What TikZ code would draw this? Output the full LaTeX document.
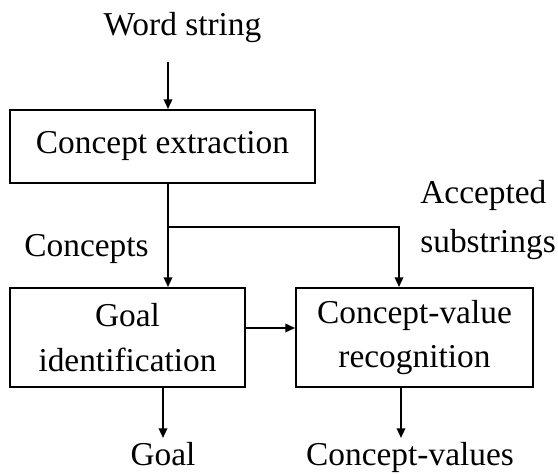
\documentclass[tikz,border=0pt]{standalone}
\usepackage{fontspec}
\setmainfont{Liberation Serif}
\usepackage{tikz}
\usetikzlibrary{arrows.meta, positioning}

\begin{document}
\begin{tikzpicture}[x=0.02cm, y=-0.02cm,
    box/.style={draw, line width=1.1pt, inner sep=0pt, align=center},
    lbl/.style={inner sep=0pt, align=center},
    arr/.style={line width=1.1pt, -{Triangle[length=5.5pt, width=4.8pt]}},
    font=\fontsize{19}{25.5}\selectfont]

    \useasboundingbox (0,0) rectangle (558,475);

    % ============================================================
    % INPUT
    % ============================================================
    \node[lbl] (words) at (182.5,28) {Word string};
    \coordinate (wstop) at (168,62);

    % ============================================================
    % PROCESSING BOXES
    % ============================================================
    \node[box, minimum width=6.1cm, minimum height=1.46cm] (extract)
        at (162.5,146.5) {Concept extraction};
    \node[box, minimum width=4.7cm, minimum height=1.98cm] (goalid)
        at (127.5,337.5) {Goal\\identification};
    \node[box, minimum width=4.74cm, minimum height=1.98cm] (cvrec)
        at (414.5,337.5) {Concept-value\\recognition};

    % ============================================================
    % LABELS
    % ============================================================
    \node[lbl] (concepts) at (86.5,249) {Concepts};
    \node[lbl, align=left, anchor=west, font=\fontsize{19}{28}\selectfont]
        (accepted) at (420,220) {Accepted\\substrings};
    \node[lbl, anchor=base] (goal) at (163,466) {Goal};
    \node[lbl, anchor=base] (cvalues) at (410,466) {Concept-values};

    % ============================================================
    % CONNECTORS
    % ============================================================
    \coordinate (split) at (168,227);
    \coordinate (branch) at (399,227);
    \coordinate (goaltip) at (163,438);
    \coordinate (cvtip) at (401,438);

    \draw[arr] (wstop) -- (wstop |- extract.north);
    \draw[line width=1.1pt] (split |- extract.south) -- (split);
    \draw[arr] (split) -- (split |- goalid.north);
    \draw[arr] (split) -- (branch) -- (branch |- cvrec.north);
    \draw[arr] ([yshift=0.19cm]goalid.east) -- ([yshift=0.19cm]cvrec.west);
    \draw[arr] (goaltip |- goalid.south) -- (goaltip);
    \draw[arr] (cvtip |- cvrec.south) -- (cvtip);

\end{tikzpicture}
\end{document}
